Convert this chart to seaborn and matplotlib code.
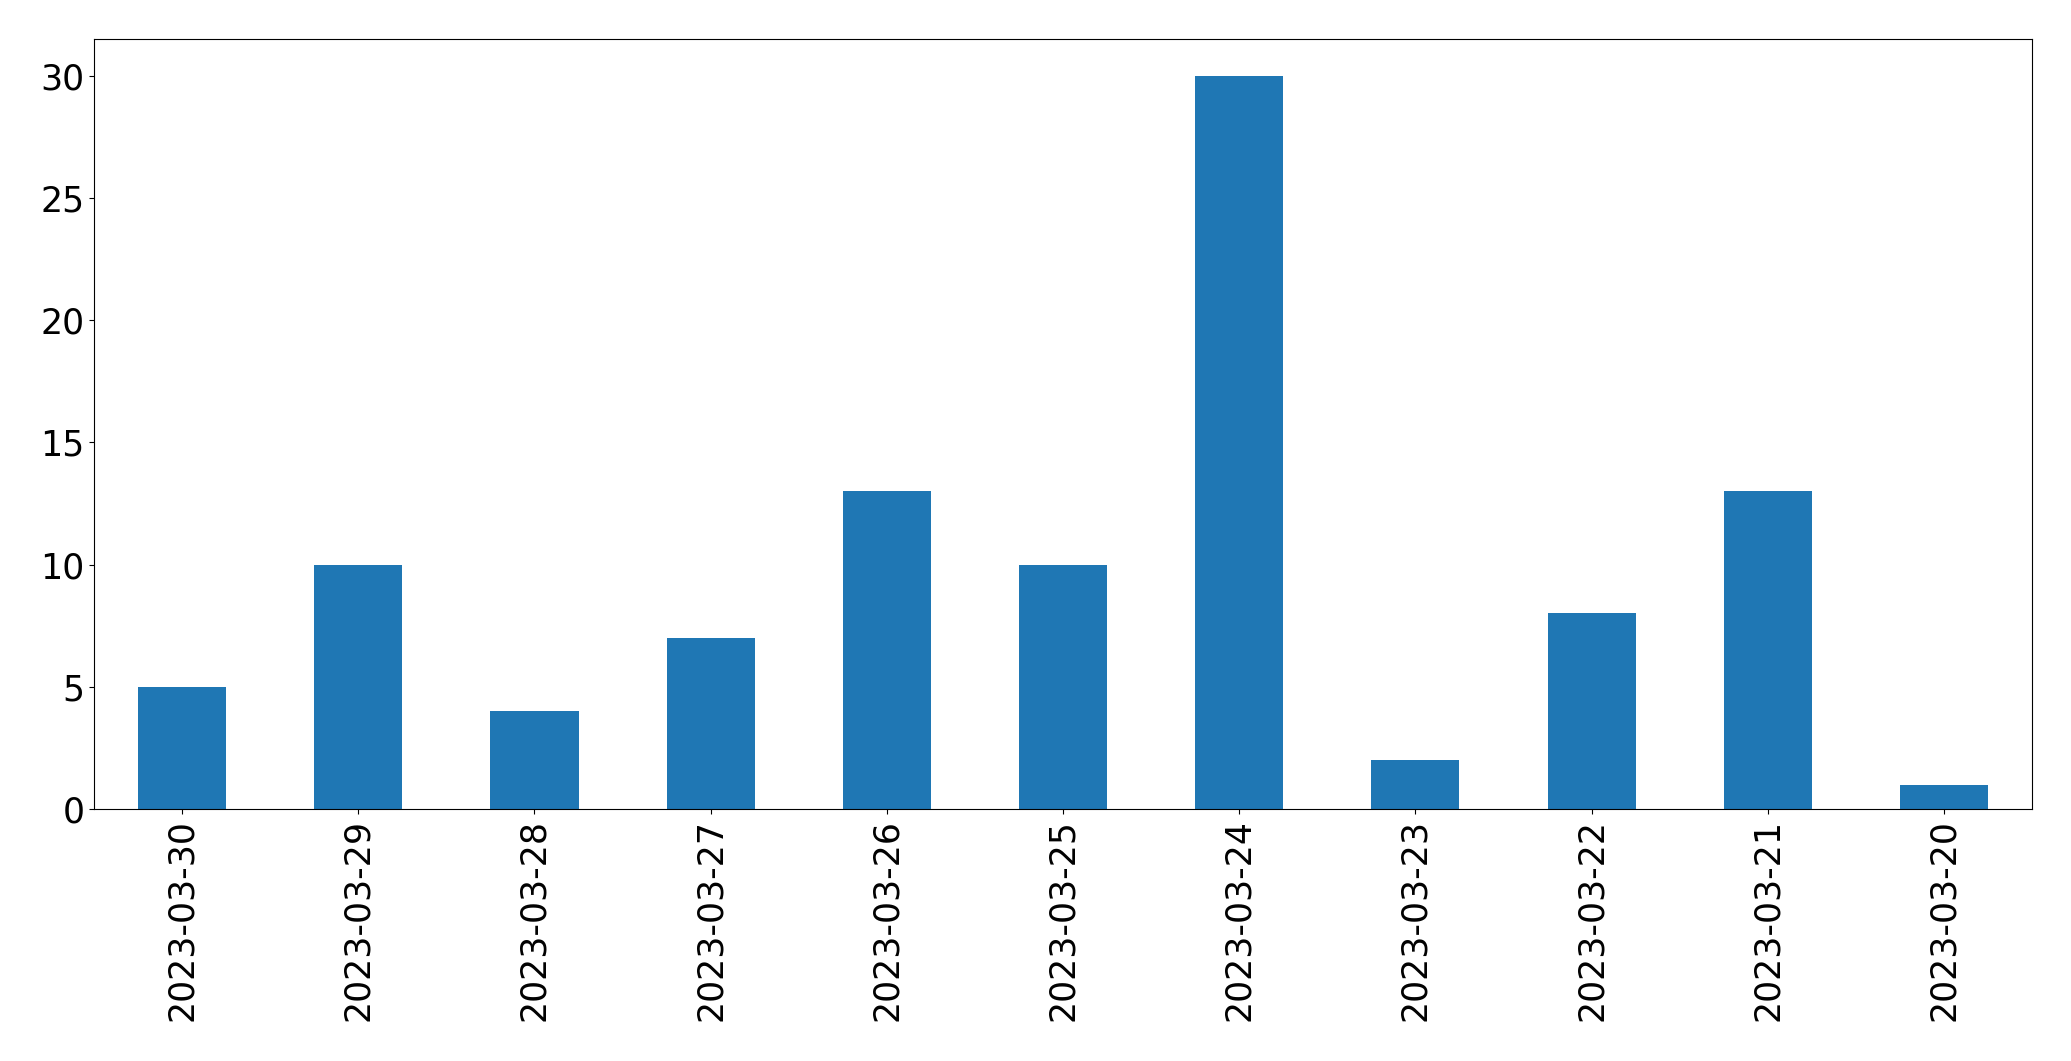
import pandas as pd
import matplotlib
matplotlib.use("Agg")
import matplotlib.pyplot as plt
import seaborn as sns

# daily counts, newest first (as in the source chart)
dates = ['2023-03-30', '2023-03-29', '2023-03-28', '2023-03-27', '2023-03-26', '2023-03-25',
         '2023-03-24', '2023-03-23', '2023-03-22', '2023-03-21', '2023-03-20']
counts = [5, 10, 4, 7, 13, 10, 30, 2, 8, 13, 1]

df = pd.DataFrame({'date': dates, 'count': counts})

fig = plt.figure(figsize=(20.71, 10.61), dpi=100)
ax = fig.add_axes([0.0454, 0.2375, 0.9358, 0.7257])

sns.barplot(data=df, x='date', y='count', order=dates, color='#1f77b4',
            saturation=1, width=0.5, linewidth=0, ax=ax)

ax.set_xlabel('')
ax.set_ylabel('')
ax.set_yticks([0, 5, 10, 15, 20, 25, 30])
ax.tick_params(axis='both', labelsize=25)
plt.setp(ax.get_xticklabels(), rotation=90)

fig.savefig('out.png', dpi=100)
